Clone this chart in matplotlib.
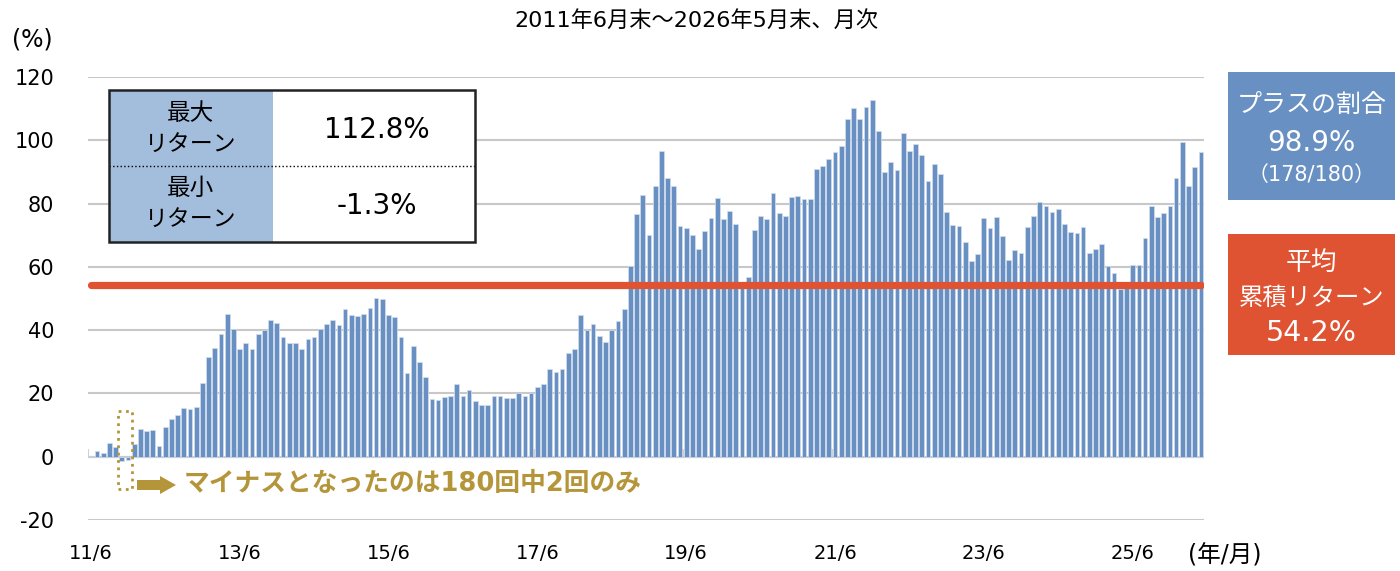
import numpy as np
import matplotlib
matplotlib.use('Agg')
import matplotlib.pyplot as plt
from matplotlib.patches import Rectangle, Polygon
from matplotlib.lines import Line2D

plt.rcParams['font.family'] = ['DejaVu Sans', 'Noto Sans CJK JP']
plt.rcParams['axes.unicode_minus'] = False

# 累積リターン(%) 2011/6 ~ 2026/5, 月次 (180 本)
returns = [
    0.3, 1.9, 1.3, 4.4, 3.1, -1.3, -1.1, 4.0, 8.9, 8.2,
    8.6, 3.4, 9.3, 12.0, 13.3, 15.5, 15.0, 15.6, 23.4, 31.4,
    34.4, 38.8, 45.0, 40.5, 34.1, 36.0, 34.0, 38.9, 39.9, 43.2,
    42.4, 37.8, 36.0, 35.8, 34.0, 37.3, 37.7, 40.4, 41.9, 43.3,
    41.7, 46.7, 44.8, 44.5, 45.2, 46.9, 50.1, 49.8, 44.7, 44.1,
    37.9, 26.4, 35.1, 29.8, 25.1, 18.3, 18.0, 19.0, 19.2, 23.0,
    19.3, 21.0, 17.7, 16.5, 16.2, 19.2, 19.3, 18.6, 18.4, 20.1,
    19.2, 20.2, 21.9, 22.9, 27.6, 26.7, 27.7, 32.7, 34.1, 44.7,
    39.9, 42.0, 38.0, 36.2, 40.0, 43.0, 46.6, 60.3, 76.7, 82.6,
    70.1, 85.4, 96.5, 88.2, 85.6, 72.8, 72.3, 70.1, 65.7, 71.2,
    75.3, 81.7, 75.0, 77.6, 73.4, 54.5, 56.8, 71.6, 76.0, 75.2,
    83.3, 77.0, 76.0, 82.0, 82.4, 81.4, 81.6, 90.8, 91.9, 94.2,
    96.3, 98.2, 106.6, 110.1, 106.6, 110.5, 112.8, 102.9, 90.1, 93.1,
    90.6, 102.3, 96.5, 98.8, 95.3, 87.2, 92.4, 89.4, 77.3, 73.1,
    72.8, 67.7, 61.7, 64.1, 75.5, 72.3, 75.8, 69.7, 62.3, 65.2,
    64.5, 72.5, 76.0, 80.4, 79.3, 77.4, 78.2, 73.4, 71.0, 70.7,
    72.6, 64.5, 65.5, 67.2, 60.3, 58.2, 52.9, 54.0, 60.6, 60.6,
    69.0, 79.2, 75.7, 76.9, 79.3, 88.0, 99.5, 85.7, 91.5, 96.2,
]
tick_labels = ['11/6', '13/6', '15/6', '17/6', '19/6', '21/6', '23/6', '25/6']
avg_return = 54.2
negative_idx = [5, 6]

BAR = '#6890C3'
RED = '#DF5232'
GOLD = '#B5953A'
GRID = '#C8C8C8'

W, H = 1400, 571
fig = plt.figure(figsize=(W / 100, H / 100), dpi=100)


def fx(x):
    return x / W


def fy(y):
    return 1 - y / H


def ftext(x, y, s, **kw):
    kw.setdefault('ha', 'center')
    kw.setdefault('va', 'center')
    fig.text(fx(x), fy(y), s, **kw)


ax = fig.add_axes([fx(87.7), fy(520), fx(1204) - fx(87.7), fy(77) - fy(520)])
x = np.arange(len(returns))
ax.bar(x, returns, width=0.76, color=BAR, edgecolor='#D3DFEE', linewidth=0.5, zorder=2)
ax.set_xlim(-0.5, len(returns) - 0.5)
ax.set_ylim(-20, 120)
ax.set_yticks(range(-20, 121, 20))
ax.yaxis.grid(True, color=GRID, linewidth=1.5)
ax.set_axisbelow(True)
for s in ax.spines.values():
    s.set_visible(False)
ax.set_xticks(x[::24])
ax.set_xticklabels(tick_labels, fontsize=14)
ax.tick_params(axis='x', length=0, pad=17)
ax.tick_params(axis='y', length=0, pad=24, labelsize=15)
ax.axhline(0, color=GRID, linewidth=1.5, zorder=1)
ax.vlines(np.arange(-0.5, len(returns), 24), 0, 2.5, color=GRID, linewidth=1.2, zorder=1)

# 平均ライン
ax.axhline(avg_return, xmin=0.003, xmax=0.997, color=RED, linewidth=5.2,
           solid_capstyle='round', zorder=3)

# マイナスの2本を囲む点線
ax.add_patch(Rectangle((min(negative_idx) - 0.6, -10.1), len(negative_idx) + 0.25, 24.7,
                       fill=False, edgecolor=GOLD, linestyle=':', linewidth=2,
                       clip_on=False, zorder=4))

# タイトルなど
ftext(696, 20, '2011年6月末～2026年5月末、月次', fontsize=16)
ftext(32, 40, '(%)', fontsize=17)
ftext(1225, 556, '(年/月)', fontsize=17)

# 最大・最小の表
tx0, tx1, tmid = 108.8, 475.5, 273
ty0, ty1, tdiv = 90, 242, 166
fig.add_artist(Rectangle((fx(tx0), fy(ty1)), fx(tx1) - fx(tx0), fy(ty0) - fy(ty1),
                         facecolor='white', edgecolor='none', zorder=5))
fig.add_artist(Rectangle((fx(tx0), fy(ty1)), fx(tmid) - fx(tx0), fy(ty0) - fy(ty1),
                         facecolor='#A3BEDC', edgecolor='none', zorder=5))
fig.add_artist(Line2D([fx(tx0), fx(tx1)], [fy(tdiv), fy(tdiv)], color='black',
                      linestyle=':', linewidth=1, zorder=6))
fig.add_artist(Rectangle((fx(tx0), fy(ty1)), fx(tx1) - fx(tx0), fy(ty0) - fy(ty1),
                         facecolor='none', edgecolor='#222222', linewidth=1.8, zorder=7))
cl = (tx0 + tmid) / 2
cr = (tmid + tx1) / 2 + 3
ftext(cl, 113, '最大', fontsize=17, zorder=8)
ftext(cl, 145, 'リターン', fontsize=16.5, zorder=8)
ftext(cr, 130, '112.8%', fontsize=20, zorder=8)
ftext(cl, 188, '最小', fontsize=17, zorder=8)
ftext(cl, 220, 'リターン', fontsize=16.5, zorder=8)
ftext(cr, 206, '-1.3%', fontsize=20, zorder=8)

# 注記
arrow = [(137, 480), (160, 480), (160, 476), (176, 485), (160, 494), (160, 490), (137, 490)]
fig.add_artist(Polygon([(fx(a), fy(b)) for a, b in arrow], closed=True,
                       facecolor=GOLD, edgecolor='none', zorder=5))
ftext(184, 484, 'マイナスとなったのは180回中2回のみ', ha='left', fontsize=18.5,
      fontweight='bold', color=GOLD)

# 右側のボックス
bx0, bx1 = 1228, 1395
bc = (bx0 + bx1) / 2
fig.add_artist(Rectangle((fx(bx0), fy(200)), fx(bx1) - fx(bx0), fy(72) - fy(200),
                         facecolor=BAR, edgecolor='none'))
ftext(bc, 105, 'プラスの割合', fontsize=18, color='white')
ftext(bc, 143, '98.9%', fontsize=20, color='white')
ftext(bc, 175, '（178/180）', fontsize=15, color='white')

fig.add_artist(Rectangle((fx(bx0), fy(355)), fx(bx1) - fx(bx0), fy(234) - fy(355),
                         facecolor=RED, edgecolor='none'))
ftext(bc, 263, '平均', fontsize=18.5, color='white')
ftext(bc, 298, '累積リターン', fontsize=17.5, color='white')
ftext(bc, 333, '54.2%', fontsize=20.5, color='white')

fig.savefig('out.png', dpi=100, facecolor='white')
